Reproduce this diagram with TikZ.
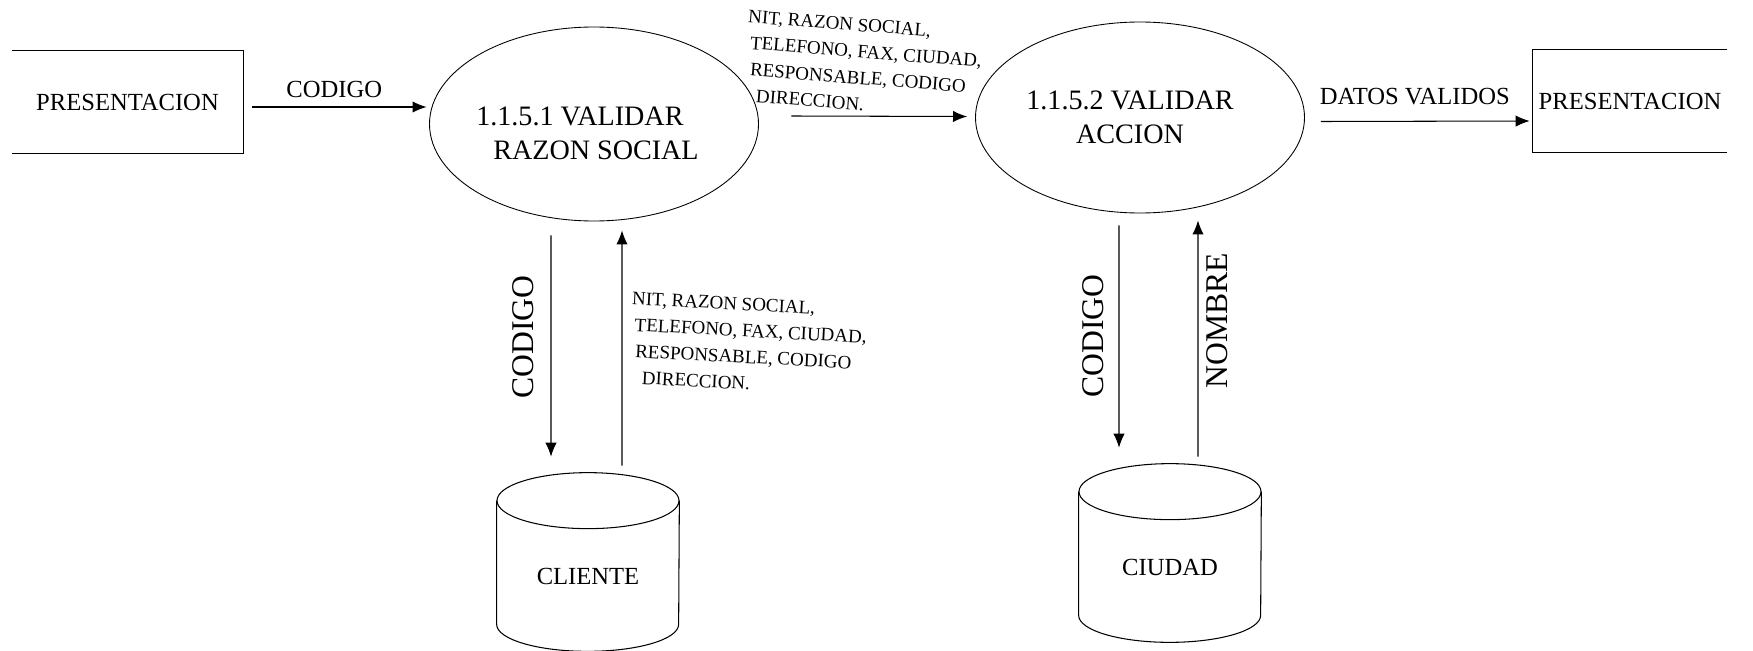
\documentclass[tikz,border=0pt]{standalone}
\usepackage{fontspec}
\setmainfont{Liberation Serif}
\usetikzlibrary{arrows.meta,shapes.geometric,positioning}
\tikzset{flow/.style={-{Latex[length=8pt,width=6.5pt]},line width=0.6pt}}
\tikzset{entity/.style={minimum height=2.04cm,inner sep=0pt,font=\fontsize{14}{16}\selectfont}}
\tikzset{process/.style={draw,ellipse,line width=0.5pt,inner sep=0pt,minimum width=6.58cm}}
\tikzset{proctext/.style={inner sep=0pt,font=\fontsize{16}{19.5}\selectfont}}
\tikzset{store/.style={minimum width=3.64cm,minimum height=3cm,inner sep=0pt,font=\fontsize{14}{16}\selectfont}}
\tikzset{lbl/.style={inner sep=2pt,font=\fontsize{14}{16}\selectfont}}
\tikzset{vlbl/.style={inner sep=0pt,rotate=90,font=\fontsize{18}{20}\selectfont}}
\tikzset{slant/.style={inner sep=0pt,align=left,font=\fontsize{10.8}{15}\selectfont}}
\newcommand{\datoscli}{NIT, RAZON SOCIAL,\\\hspace*{0.08cm}TELEFONO, FAX, CIUDAD,\\\hspace*{0.12cm}RESPONSABLE, CODIGO\\\hspace*{0.28cm}DIRECCION.}

\begin{document}
\begin{tikzpicture}
  \useasboundingbox (0,0) rectangle (35.06,-13.02);
  % entidades externas
  \node[entity,minimum width=4.62cm] (pres1) at (2.55,-2.04) {PRESENTACION};
  \node[entity,minimum width=3.88cm] (pres2) at (32.6,-2.02) {PRESENTACION};
  \draw[line width=0.6pt] (pres1.north west) -- (pres1.north east) -- (pres1.south east) -- (pres1.south west);
  \draw[line width=0.6pt] (pres2.north east) -- (pres2.north west) -- (pres2.south west) -- (pres2.south east);
  % procesos
  \node[process,minimum height=3.88cm] (p1) at (11.88,-2.48) {};
  \node[process,minimum height=3.82cm] (p2) at (22.8,-2.35) {};
  \node[proctext,align=left] (p1txt) at (11.75,-2.67) {1.1.5.1 VALIDAR\\\hspace*{0.34cm}RAZON SOCIAL};
  \node[proctext,align=center] (p2txt) at (22.6,-2.35) {1.1.5.2 VALIDAR\\ACCION};
  % almacenes
  \node[store] (cli) at (11.76,-11.52) {CLIENTE};
  \node[store] (ciu) at (23.4,-11.34) {CIUDAD};
  \foreach \s in {cli,ciu}{
    \draw[line width=0.6pt] (\s.north) ellipse [x radius=1.82cm, y radius=0.56cm];
    \draw[line width=0.6pt] (\s.north west) -- ([yshift=0.54cm]\s.south west)
      arc [start angle=180, end angle=360, x radius=1.82cm, y radius=0.54cm] -- (\s.north east);
  }
  % flujos
  \draw[flow] ([shift={(0.18,-0.10)}]pres1.east) -- node[lbl,above=3pt,pos=0.47] (f1) {CODIGO} ([shift={(-0.05,0.34)}]p1.west);
  \draw[flow] ([shift={(0.65,0.16)}]p1.east) -- ([shift={(-0.16,0.02)}]p2.west);
  \draw[flow] ([shift={(0.32,-0.08)}]p2.east) -- node[lbl,above=7pt,pos=0.45] (f3) {DATOS VALIDOS} ([shift={(-0.06,-0.40)}]pres2.west);
  \node[slant,rotate=-4.5] (d1) at (17.26,-1.30) {\datoscli};
  \draw[flow] ([shift={(-0.86,-0.28)}]p1.south) -- ([shift={(-0.74,0.88)}]cli.north);
  \draw[flow] ([shift={(0.68,0.70)}]cli.north) -- ([shift={(0.56,-0.18)}]p1.south);
  \node[vlbl] (c1) at (10.46,-6.74) {CODIGO};
  \node[slant,rotate=-3] (d2) at (14.96,-6.88) {\datoscli};
  \draw[flow] ([shift={(-0.42,-0.24)}]p2.south) -- ([shift={(-1.02,0.88)}]ciu.north);
  \draw[flow] ([shift={(0.56,0.70)}]ciu.north) -- ([shift={(1.16,-0.14)}]p2.south);
  \node[vlbl] (c2) at (21.86,-6.72) {CODIGO};
  \node[vlbl] (n1) at (24.34,-6.42) {NOMBRE};
\end{tikzpicture}
\end{document}
